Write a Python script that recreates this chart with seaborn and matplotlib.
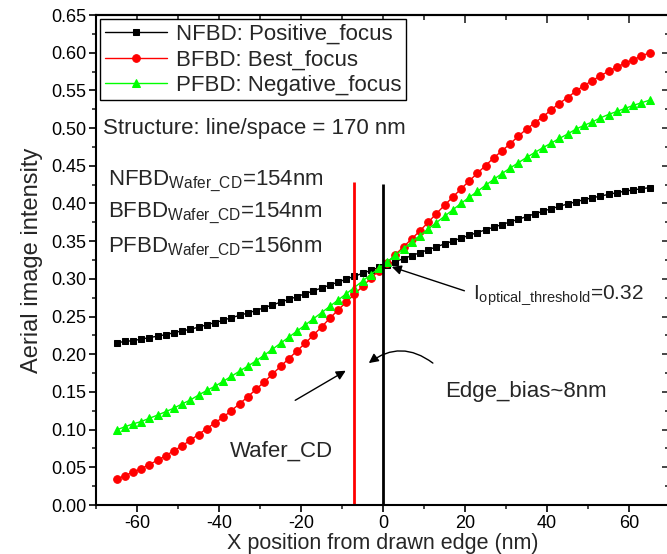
import numpy as np
import matplotlib
matplotlib.use("Agg")
import matplotlib.pyplot as plt
import seaborn as sns

# x positions (nm) of the simulated aerial image points
x_nm = np.arange(-65, 66, 2)

nfbd = [0.215, 0.217, 0.218, 0.220, 0.222, 0.224, 0.226, 0.2285, 0.231, 0.233,
        0.236, 0.239, 0.242, 0.245, 0.2485, 0.2515, 0.2547, 0.258, 0.2617, 0.2653,
        0.269, 0.2727, 0.2764, 0.2802, 0.284, 0.2878, 0.2917, 0.2956, 0.2995, 0.3034,
        0.3073, 0.3112, 0.3151, 0.319, 0.3229, 0.3268, 0.3308, 0.3347, 0.3386, 0.3424,
        0.3463, 0.3501, 0.354, 0.3577, 0.3614, 0.365, 0.3685, 0.372, 0.3756, 0.379,
        0.3826, 0.3862, 0.3897, 0.393, 0.3962, 0.3993, 0.4022, 0.405, 0.4074, 0.4098,
        0.412, 0.4143, 0.4163, 0.418, 0.4195, 0.421]

bfbd = [0.034, 0.039, 0.0435, 0.048, 0.0537, 0.0593, 0.0654, 0.072, 0.0785, 0.086,
        0.0935, 0.1014, 0.1089, 0.1164, 0.1252, 0.1341, 0.1435, 0.1533, 0.1631, 0.1735,
        0.1838, 0.1941, 0.2043, 0.2145, 0.2252, 0.2362, 0.2475, 0.2585, 0.269, 0.2795,
        0.290, 0.3005, 0.311, 0.3215, 0.332, 0.3425, 0.353, 0.3637, 0.3749, 0.3865,
        0.3975, 0.4085, 0.4191, 0.4298, 0.440, 0.4502, 0.4605, 0.4698, 0.4791, 0.4893,
        0.4986, 0.507, 0.5149, 0.5242, 0.5326, 0.5405, 0.5488, 0.5563, 0.5628, 0.5693,
        0.5753, 0.5809, 0.586, 0.5907, 0.5953, 0.600]

pfbd = [0.0995, 0.1037, 0.1075, 0.1107, 0.115, 0.1192, 0.1238, 0.1285, 0.1341, 0.1393,
        0.1458, 0.1519, 0.1575, 0.164, 0.1706, 0.1776, 0.1841, 0.1911, 0.1986, 0.2065,
        0.2145, 0.2225, 0.2306, 0.2387, 0.2469, 0.2551, 0.2634, 0.2717, 0.2801, 0.2885,
        0.297, 0.3055, 0.314, 0.3225, 0.3312, 0.340, 0.3488, 0.3575, 0.366, 0.3745,
        0.383, 0.3915, 0.400, 0.408, 0.416, 0.424, 0.432, 0.4395, 0.447, 0.454,
        0.461, 0.4675, 0.474, 0.480, 0.4862, 0.492, 0.4985, 0.5035, 0.508, 0.5135,
        0.518, 0.522, 0.526, 0.530, 0.5335, 0.537]

labels = ["NFBD: Positive_focus", "BFBD: Best_focus", "PFBD: Negative_focus"]

# vertical marker lines: wafer edge and drawn edge
wafer_edge_x, wafer_edge_top = -7, 0.429
drawn_edge_x, drawn_edge_top = 0, 0.426

sns.set_theme(style="ticks")
plt.rcParams["font.family"] = ["Liberation Sans", "DejaVu Sans"]
plt.rcParams["mathtext.fontset"] = "custom"
plt.rcParams["mathtext.rm"] = "Liberation Sans"
plt.rcParams["mathtext.it"] = "Liberation Sans:italic"
plt.rcParams["axes.unicode_minus"] = False

fig = plt.figure(figsize=(6.67, 5.54), dpi=100)
ax = fig.add_axes([96 / 667, 49 / 554, 574 / 667, 490 / 554])

sns.lineplot(x=x_nm, y=nfbd, ax=ax, color="black", marker="s", markersize=5,
             markeredgecolor="black", linewidth=1, label=labels[0])
sns.lineplot(x=x_nm, y=bfbd, ax=ax, color="red", marker="o", markersize=5.5,
             markeredgecolor="red", linewidth=1, label=labels[1])
sns.lineplot(x=x_nm, y=pfbd, ax=ax, color="#00ff00", marker="^", markersize=6,
             markeredgecolor="#00ff00", linewidth=1, label=labels[2])

ax.vlines(wafer_edge_x, 0, wafer_edge_top, color="red", linewidth=2)
ax.vlines(drawn_edge_x, 0, drawn_edge_top, color="black", linewidth=2)

ax.set_xlim(-70, 70)
ax.set_ylim(0, 0.65)
ax.set_xticks(np.arange(-60, 61, 20))
ax.set_xticks(np.arange(-70, 71, 10), minor=True)
ax.set_yticks(np.arange(0, 0.651, 0.05))
ax.set_yticks(np.arange(0, 0.651, 0.025), minor=True)
ax.yaxis.set_major_formatter(matplotlib.ticker.FormatStrFormatter("%.2f"))
ax.tick_params(which="major", direction="out", length=5, width=1.2, labelsize=13,
               colors="black", pad=2)
ax.tick_params(which="minor", direction="out", length=3, width=1.2)

for side in ["top", "right"]:
    if side == "top":
        sec = ax.secondary_xaxis("top")
        sec.set_xticks(np.arange(-60, 61, 20))
        sec.set_xticks(np.arange(-70, 71, 10), minor=True)
        sec.tick_params(labeltop=False)
    else:
        sec = ax.secondary_yaxis("right")
        sec.set_yticks(np.arange(0, 0.651, 0.05))
        sec.set_yticks(np.arange(0, 0.651, 0.025), minor=True)
        sec.tick_params(labelright=False)
    sec.tick_params(which="major", direction="in", length=6, width=1.2)
    sec.tick_params(which="minor", direction="in", length=3.5, width=1.2)
    for sp in sec.spines.values():
        sp.set_linewidth(1.5)
        sp.set_color("black")

for sp in ax.spines.values():
    sp.set_visible(True)
    sp.set_linewidth(1.5)
    sp.set_color("black")

ax.set_xlabel("X position from drawn edge (nm)", fontsize=15.5, labelpad=1)
ax.set_ylabel("Aerial image intensity", fontsize=17, labelpad=6)

leg = ax.legend(loc="upper left", fontsize=16, frameon=True, fancybox=False,
                edgecolor="black", framealpha=1, borderaxespad=0.2,
                handlelength=2.8, labelspacing=0.2, borderpad=0.2,
                handletextpad=0.4)
leg.get_frame().set_linewidth(1.0)

ax.text(-68.3, 0.499, "Structure: line/space = 170 nm", fontsize=16, va="center")
ax.text(-67, 0.429, r"NFBD$_{\mathrm{Wafer\_CD}}$=154nm", fontsize=16, va="center")
ax.text(-67, 0.387, r"BFBD$_{\mathrm{Wafer\_CD}}$=154nm", fontsize=16, va="center")
ax.text(-67, 0.341, r"PFBD$_{\mathrm{Wafer\_CD}}$=156nm", fontsize=16, va="center")
ax.text(22.0, 0.278, r"I$_{\mathrm{optical\_threshold}}$=0.32", fontsize=15, va="center")
ax.text(15.1, 0.150, "Edge_bias~8nm", fontsize=16, va="center")
ax.text(-37.3, 0.071, "Wafer_CD", fontsize=16, va="center")

arrow = dict(arrowstyle="-|>", color="black", lw=1, mutation_scale=14)
ax.annotate("", xy=(1.5, 0.317), xytext=(20.5, 0.283), arrowprops=arrow)
ax.annotate("", xy=(-8.5, 0.180), xytext=(-22, 0.137), arrowprops=arrow)
ax.annotate("", xy=(-4, 0.186), xytext=(12.7, 0.186),
            arrowprops=dict(arrow, connectionstyle="arc3,rad=0.4"))

fig.savefig("out.png", dpi=100)
